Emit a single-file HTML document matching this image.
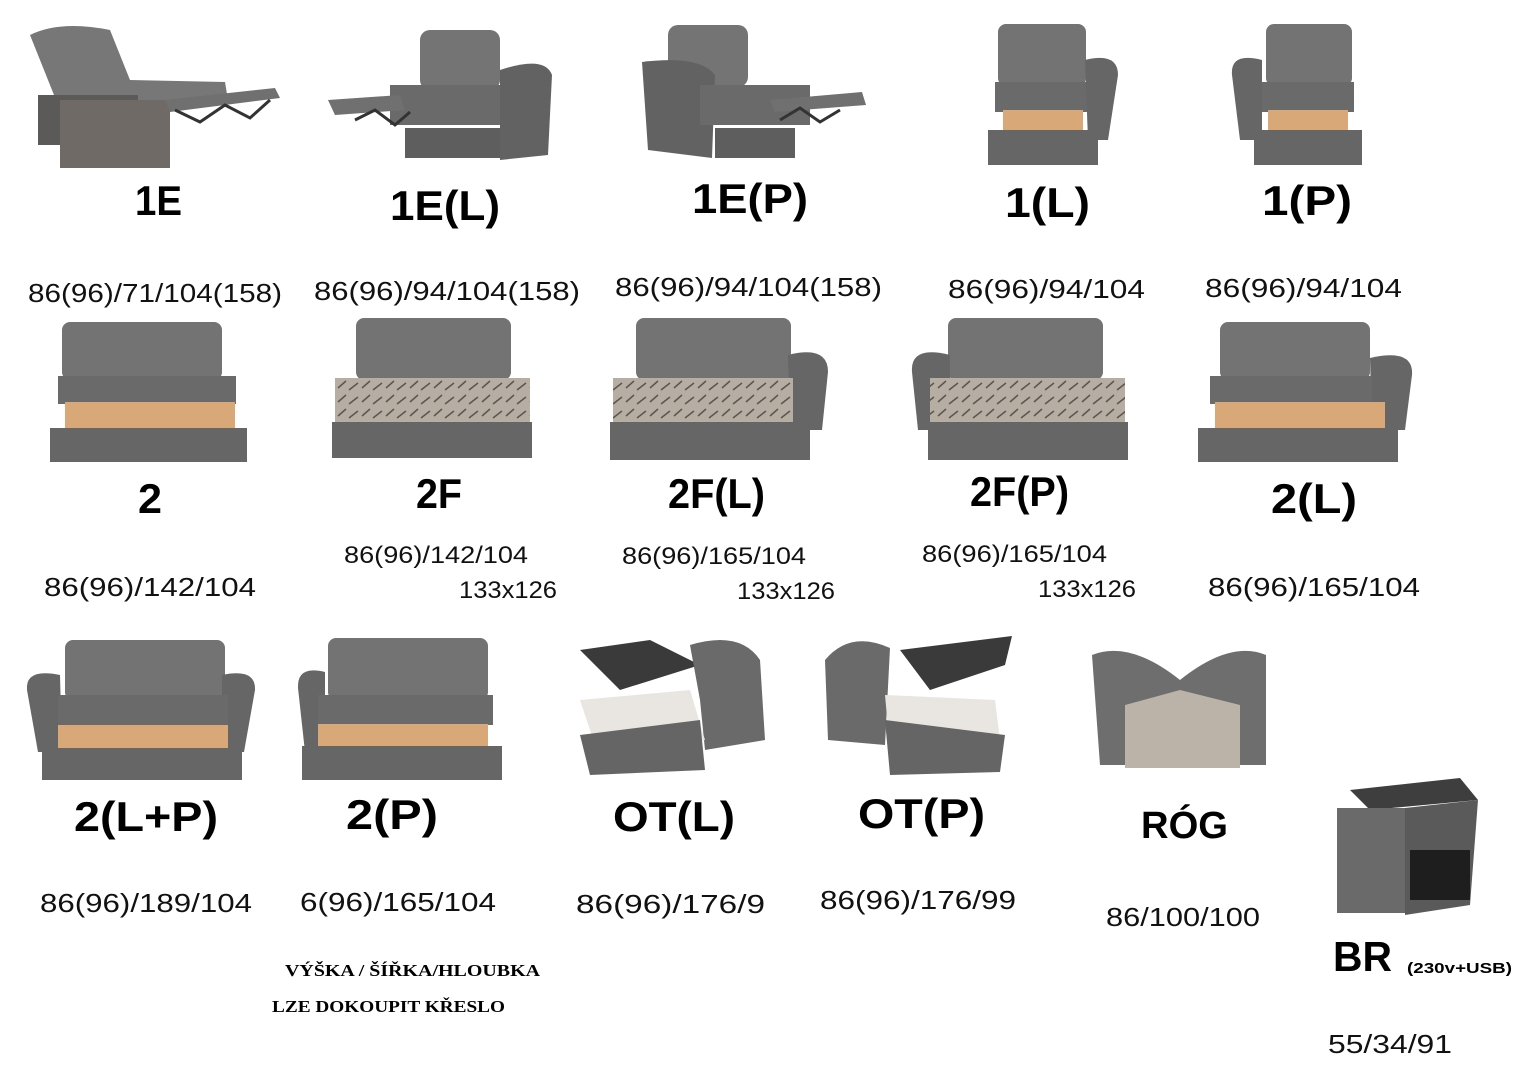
<!DOCTYPE html>
<html><head><meta charset="utf-8"><style>
html,body{margin:0;padding:0;background:#fff;}
svg{display:block;}
.l{font-family:"Liberation Sans",sans-serif;font-weight:bold;fill:#000;}
.d{font-family:"Liberation Sans",sans-serif;fill:#111;}
.s{font-family:"Liberation Serif",serif;font-weight:bold;fill:#000;}
</style></head><body>
<svg width="1527" height="1080" viewBox="0 0 1527 1080" xmlns="http://www.w3.org/2000/svg">
<defs>
<pattern id="mat" width="24" height="14" patternUnits="userSpaceOnUse">
<rect width="24" height="14" fill="#b6ada3"/><path d="M2 10 L10 3 M13 12 L22 5" stroke="#5b5650" stroke-width="1.5"/>
</pattern>
</defs>
<g fill="#6b6b6b">
<path d="M30 35 Q60 20 110 30 L130 80 L225 82 L228 100 L170 110 L120 115 L60 110 Z" fill="#777"/>
<rect x="38" y="95" width="100" height="50" fill="#5c5a58"/>
<rect x="60" y="100" width="110" height="68" fill="#6f6a66"/>
<path d="M165 100 L275 88 L280 98 L170 112 Z" fill="#707070"/>
<path d="M175 110 L200 122 L225 105 L250 118 L270 100" stroke="#333" stroke-width="3" fill="none"/>
<rect x="420" y="30" width="80" height="60" rx="10" fill="#747474"/>
<rect x="390" y="85" width="120" height="40" fill="#6a6a6a"/>
<path d="M500 70 Q545 55 552 75 L548 155 L500 160 Z" fill="#626262"/>
<path d="M328 100 L400 95 L405 110 L335 115 Z" fill="#707070"/>
<path d="M355 120 L375 110 L395 125 L410 112" stroke="#333" stroke-width="3" fill="none"/>
<rect x="405" y="128" width="95" height="30" fill="#5e5e5e"/>
<rect x="668" y="25" width="80" height="62" rx="10" fill="#747474"/>
<path d="M642 62 Q700 55 715 75 L712 158 L648 150 Z" fill="#626262"/>
<rect x="700" y="85" width="110" height="40" fill="#6a6a6a"/>
<path d="M770 100 L862 92 L866 105 L775 112 Z" fill="#707070"/>
<path d="M780 120 L800 108 L820 122 L840 110" stroke="#333" stroke-width="3" fill="none"/>
<rect x="715" y="128" width="80" height="30" fill="#5e5e5e"/>
<rect x="998" y="24" width="88" height="62" rx="8" fill="#737373"/>
<rect x="995" y="82" width="92" height="30" fill="#6a6a6a"/>
<path d="M1085 60 Q1118 52 1118 75 L1108 140 L1088 140 Z" fill="#666"/>
<rect x="1003" y="110" width="80" height="22" fill="#d9a878"/>
<rect x="988" y="130" width="110" height="35" fill="#666"/>
<rect x="1266" y="24" width="86" height="62" rx="8" fill="#737373"/>
<path d="M1262 60 Q1230 52 1232 75 L1240 140 L1262 140 Z" fill="#666"/>
<rect x="1262" y="82" width="92" height="30" fill="#6a6a6a"/>
<rect x="1268" y="110" width="80" height="22" fill="#d9a878"/>
<rect x="1254" y="130" width="108" height="35" fill="#666"/>
<rect x="62" y="322" width="160" height="58" rx="8" fill="#737373"/>
<rect x="58" y="376" width="178" height="28" fill="#6a6a6a"/>
<rect x="65" y="402" width="170" height="28" fill="#d9a878"/>
<rect x="50" y="428" width="197" height="34" fill="#666"/>
<rect x="356" y="318" width="155" height="62" rx="8" fill="#737373"/>
<rect x="335" y="378" width="195" height="44" fill="url(#mat)"/>
<rect x="332" y="422" width="200" height="36" fill="#666"/>
<rect x="636" y="318" width="155" height="62" rx="8" fill="#737373"/>
<path d="M788 355 Q828 345 828 372 L822 430 L790 430 Z" fill="#666"/>
<rect x="613" y="378" width="180" height="44" fill="url(#mat)"/>
<rect x="610" y="422" width="200" height="38" fill="#666"/>
<rect x="948" y="318" width="155" height="62" rx="8" fill="#737373"/>
<path d="M950 355 Q910 345 912 372 L918 430 L950 430 Z" fill="#666"/>
<rect x="930" y="378" width="195" height="44" fill="url(#mat)"/>
<rect x="928" y="422" width="200" height="38" fill="#666"/>
<rect x="1220" y="322" width="150" height="58" rx="8" fill="#737373"/>
<path d="M1370 358 Q1414 348 1412 375 L1405 430 L1372 430 Z" fill="#666"/>
<rect x="1210" y="376" width="162" height="28" fill="#6a6a6a"/>
<rect x="1215" y="402" width="170" height="28" fill="#d9a878"/>
<rect x="1198" y="428" width="200" height="34" fill="#666"/>
<rect x="65" y="640" width="160" height="60" rx="8" fill="#737373"/>
<path d="M60 675 Q25 668 27 690 L38 752 L62 752 Z" fill="#666"/>
<path d="M222 675 Q256 668 255 690 L244 752 L222 752 Z" fill="#666"/>
<rect x="58" y="695" width="170" height="30" fill="#6a6a6a"/>
<rect x="58" y="725" width="170" height="25" fill="#d9a878"/>
<rect x="42" y="748" width="200" height="32" fill="#666"/>
<rect x="328" y="638" width="160" height="62" rx="8" fill="#737373"/>
<path d="M325 672 Q297 665 298 688 L305 752 L325 752 Z" fill="#666"/>
<rect x="318" y="695" width="175" height="30" fill="#6a6a6a"/>
<rect x="318" y="724" width="170" height="24" fill="#d9a878"/>
<rect x="302" y="746" width="200" height="34" fill="#666"/>
<path d="M580 650 L650 640 L700 665 L620 690 Z" fill="#3a3a3a"/>
<path d="M690 645 Q740 630 760 660 L765 740 L705 750 L700 700 Z" fill="#6a6a6a"/>
<path d="M580 700 L690 690 L705 740 L600 760 Z" fill="#e9e6e2"/>
<path d="M580 735 L700 720 L705 770 L590 775 Z" fill="#656565"/>
<path d="M900 650 L1012 636 L1005 665 L930 690 Z" fill="#3a3a3a"/>
<path d="M825 660 Q850 630 890 648 L885 745 L828 740 Z" fill="#6a6a6a"/>
<path d="M885 695 L995 700 L1000 740 L890 750 Z" fill="#e9e6e2"/>
<path d="M885 720 L1005 735 L1000 772 L890 775 Z" fill="#656565"/>
<path d="M1092 655 Q1130 640 1180 680 Q1230 640 1266 655 L1266 765 L1100 765 Z" fill="#6e6e6e"/>
<path d="M1125 705 L1180 690 L1240 705 L1240 768 L1125 768 Z" fill="#bcb3a8"/>
<path d="M1350 790 L1460 778 L1478 800 L1370 810 Z" fill="#3e3e3e"/>
<rect x="1337" y="808" width="70" height="105" fill="#6a6a6a"/>
<path d="M1405 808 L1478 800 L1470 905 L1405 915 Z" fill="#5a5a5a"/>
<rect x="1410" y="850" width="60" height="50" fill="#1e1e1e"/>
</g>

<g class="l" font-size="42" lengthAdjust="spacingAndGlyphs">
<text x="135" y="215" textLength="47" lengthAdjust="spacingAndGlyphs">1E</text>
<text x="390" y="220" textLength="110" lengthAdjust="spacingAndGlyphs">1E(L)</text>
<text x="692" y="213" textLength="116" lengthAdjust="spacingAndGlyphs">1E(P)</text>
<text x="1005" y="217" textLength="85" lengthAdjust="spacingAndGlyphs">1(L)</text>
<text x="1262" y="215" textLength="90" lengthAdjust="spacingAndGlyphs">1(P)</text>
<text x="138" y="513" textLength="24" lengthAdjust="spacingAndGlyphs">2</text>
<text x="416" y="508" textLength="46" lengthAdjust="spacingAndGlyphs">2F</text>
<text x="668" y="508" textLength="97" lengthAdjust="spacingAndGlyphs">2F(L)</text>
<text x="970" y="506" textLength="99" lengthAdjust="spacingAndGlyphs">2F(P)</text>
<text x="1271" y="513" textLength="86" lengthAdjust="spacingAndGlyphs">2(L)</text>
<text x="74" y="831" textLength="144" lengthAdjust="spacingAndGlyphs">2(L+P)</text>
<text x="346" y="829" textLength="92" lengthAdjust="spacingAndGlyphs">2(P)</text>
<text x="613" y="831" textLength="122" lengthAdjust="spacingAndGlyphs">OT(L)</text>
<text x="858" y="828" textLength="127" lengthAdjust="spacingAndGlyphs">OT(P)</text>
<text x="1141" y="838" font-size="38" textLength="87" lengthAdjust="spacingAndGlyphs">RÓG</text>
<text x="1333" y="971" textLength="59" lengthAdjust="spacingAndGlyphs">BR</text>
</g>
<text x="1407" y="973" font-family="Liberation Sans,sans-serif" font-weight="bold" font-size="15" textLength="105" lengthAdjust="spacingAndGlyphs">(230v+USB)</text>

<g class="d" font-size="26">
<text x="28" y="302" textLength="254" lengthAdjust="spacingAndGlyphs">86(96)/71/104(158)</text>
<text x="314" y="300" textLength="266" lengthAdjust="spacingAndGlyphs">86(96)/94/104(158)</text>
<text x="615" y="296" textLength="267" lengthAdjust="spacingAndGlyphs">86(96)/94/104(158)</text>
<text x="948" y="298" textLength="197" lengthAdjust="spacingAndGlyphs">86(96)/94/104</text>
<text x="1205" y="297" textLength="197" lengthAdjust="spacingAndGlyphs">86(96)/94/104</text>
<text x="44" y="596" textLength="212" lengthAdjust="spacingAndGlyphs">86(96)/142/104</text>
<text x="1208" y="596" textLength="212" lengthAdjust="spacingAndGlyphs">86(96)/165/104</text>
<text x="40" y="912" textLength="212" lengthAdjust="spacingAndGlyphs">86(96)/189/104</text>
<text x="300" y="911" textLength="196" lengthAdjust="spacingAndGlyphs">6(96)/165/104</text>
<text x="576" y="913" textLength="189" lengthAdjust="spacingAndGlyphs">86(96)/176/9</text>
<text x="820" y="909" textLength="196" lengthAdjust="spacingAndGlyphs">86(96)/176/99</text>
<text x="1106" y="926" textLength="154" lengthAdjust="spacingAndGlyphs">86/100/100</text>
<text x="1328" y="1053" textLength="124" lengthAdjust="spacingAndGlyphs">55/34/91</text>
</g>
<g class="d" font-size="24">
<text x="344" y="563" textLength="184" lengthAdjust="spacingAndGlyphs">86(96)/142/104</text>
<text x="459" y="598" textLength="98" lengthAdjust="spacingAndGlyphs">133x126</text>
<text x="622" y="564" textLength="184" lengthAdjust="spacingAndGlyphs">86(96)/165/104</text>
<text x="737" y="599" textLength="98" lengthAdjust="spacingAndGlyphs">133x126</text>
<text x="922" y="562" textLength="185" lengthAdjust="spacingAndGlyphs">86(96)/165/104</text>
<text x="1038" y="597" textLength="98" lengthAdjust="spacingAndGlyphs">133x126</text>
</g>
<text class="s" x="285" y="976" font-size="17" textLength="255" lengthAdjust="spacingAndGlyphs">VÝŠKA / ŠÍŘKA/HLOUBKA</text>
<text class="s" x="272" y="1012" font-size="17" textLength="233" lengthAdjust="spacingAndGlyphs">LZE DOKOUPIT KŘESLO</text>
</svg>
</body></html>
